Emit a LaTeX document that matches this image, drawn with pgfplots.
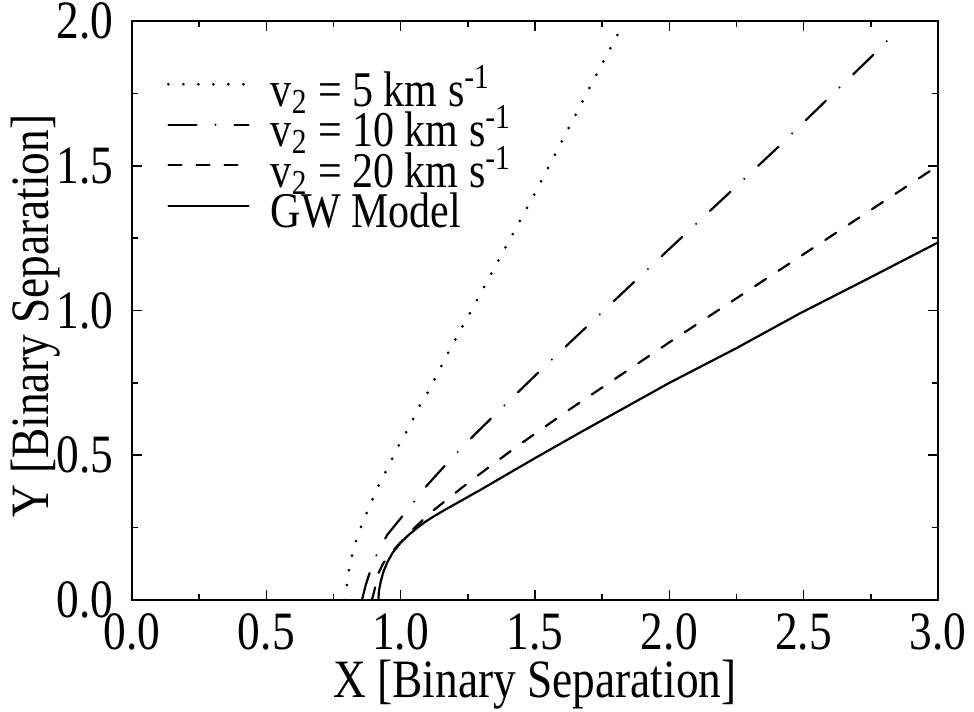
\documentclass[border=0pt]{standalone}
\usepackage{fontspec}
\setmainfont{Liberation Serif}[FakeStretch=0.84]
\usepackage{pgfplots}
\pgfplotsset{compat=1.18}
\newcommand{\bigfont}{\fontsize{27bp}{32bp}\selectfont}
\newcommand{\legfont}{\fontsize{25bp}{30bp}\selectfont}
\begin{document}
\bigfont
\begin{tikzpicture}
\path[use as bounding box] (-66bp,-56bp) rectangle (421bp,300bp);
\begin{axis}[
  scale only axis, width=403bp, height=289.5bp,
  at={(0,0)}, anchor=south west,
  xmin=0, xmax=3, ymin=0, ymax=2,
  xtick={0,0.5,...,3}, ytick={0,0.5,...,2},
  minor tick num=1,
  tick align=inside,
  major tick length=5bp, minor tick length=3bp,
  axis line style={line width=1.1bp},
  every tick/.style={line width=0.8bp, black},
  /pgf/number format/assume math mode=true,
  /pgf/number format/.cd, fixed, fixed zerofill, precision=1,
  /pgfplots/.cd,
  tick label style={font=\bigfont},
  xticklabel style={anchor=base, yshift=-24.5bp},
  yticklabel style={anchor=east},
  xlabel={X [Binary Separation]},
  ylabel={Y [Binary Separation]},
  label style={font=\bigfont},
  xlabel style={at={(axis description cs:0.5,-0.168)}, anchor=base},
  ylabel style={at={(axis description cs:-0.103,0.49)}, anchor=base, rotate=0},
  legend cell align=left,
  legend image code/.code={\draw[#1] (0bp,6bp) -- (40bp,6bp);},
  legend style={at={(axis description cs:0.0434,0.905)}, anchor=north west,
    draw=none, fill=none, inner sep=0pt, outer sep=0pt, font=\legfont,
    column sep=10.5bp, row sep=0bp,
    nodes={inner sep=0pt, text height=15bp, text depth=5.25bp}},
  every axis plot/.append style={black, line width=1.1bp, line cap=round},
]
\addplot[dash pattern=on 0pt off 7.5bp, line width=1.5bp] coordinates {
(0.795,0) (0.799,0.046) (0.805,0.092) (0.814,0.132) (0.824,0.176) (0.840,0.221)
(0.857,0.265) (0.877,0.309) (0.898,0.353) (0.920,0.400) (0.944,0.443) (0.968,0.488)
(0.992,0.532) (1.019,0.577) (1.045,0.622) (1.068,0.667) (1.097,0.710) (1.121,0.753)
(1.146,0.798) (1.171,0.844) (1.301,1.065) (1.506,1.416) (1.705,1.773) (1.810,1.957)
};
\addlegendentry{v\textsubscript{2} = 5 km s\textsuperscript{-1}}
\addplot[dash pattern=on 14bp off 9.5bp on 0bp off 9.5bp] coordinates {
(0.856,0) (0.870,0.052) (0.898,0.132) (0.920,0.175) (0.950,0.225) (1.020,0.305)
(1.060,0.351) (1.099,0.397) (1.190,0.490) (1.277,0.573) (1.407,0.691) (1.537,0.808)
(1.890,1.117) (2.393,1.554) (2.778,1.900) (2.830,1.950)
};
\addlegendentry{v\textsubscript{2} = 10 km s\textsuperscript{-1}}
\addplot[dash pattern=on 6.5bp off 7.5bp] coordinates {
(0.893,0) (0.904,0.040) (0.917,0.092) (0.935,0.127) (0.979,0.178) (1.030,0.230)
(1.109,0.300) (1.258,0.410) (1.432,0.530) (1.630,0.659) (2.000,0.890) (2.486,1.186)
(3.000,1.500)
};
\addlegendentry{v\textsubscript{2} = 20 km s\textsuperscript{-1}}
\addplot[solid] coordinates {
(0.917,0) (0.919,0.030) (0.925,0.060) (0.935,0.095) (0.950,0.130) (0.970,0.163)
(1.000,0.198) (1.030,0.225) (1.060,0.248) (1.090,0.269) (1.120,0.287) (1.160,0.309)
(1.210,0.335) (1.250,0.356) (1.300,0.382) (1.357,0.413)
(1.500,0.490) (1.667,0.578) (2.000,0.750) (2.250,0.870) (2.486,0.990) (2.750,1.115)
(3.000,1.235)
};
\addlegendentry{GW Model}
\end{axis}
\end{tikzpicture}
\end{document}
